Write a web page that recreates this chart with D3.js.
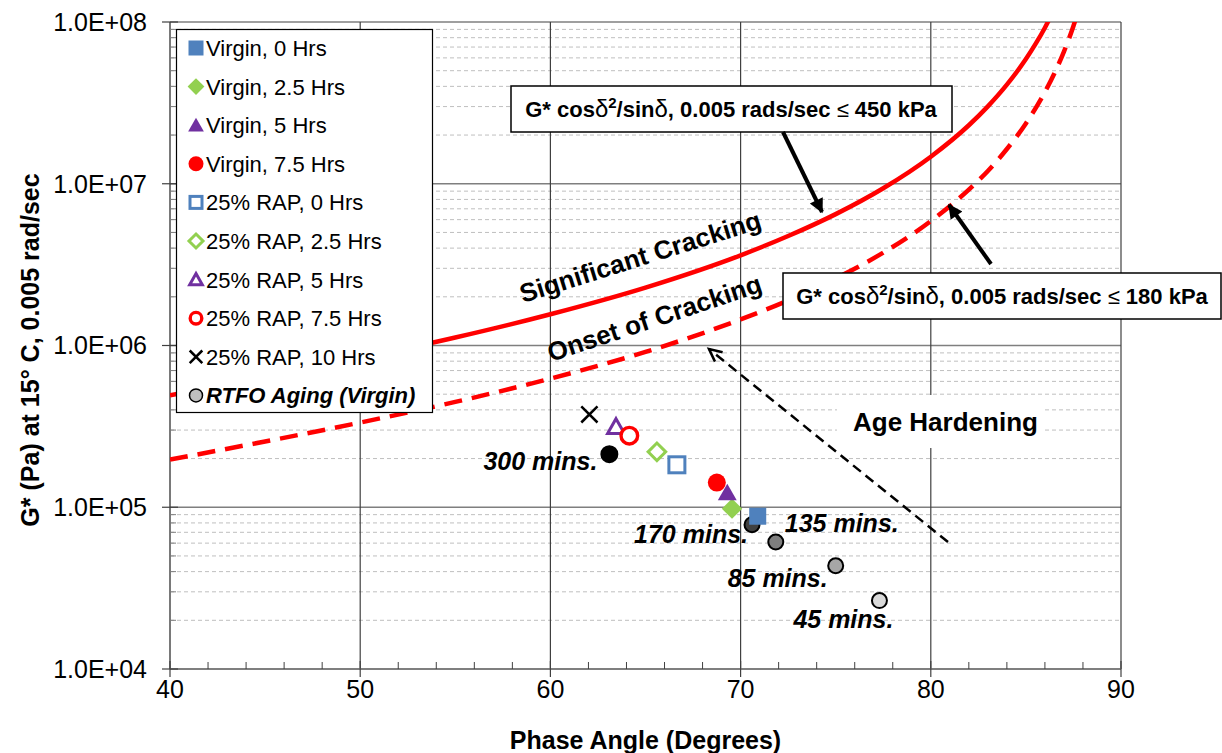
<!DOCTYPE html>
<html>
<head>
<meta charset="utf-8">
<script src="https://cdn.jsdelivr.net/npm/d3@7"></script>
<style>
  body { margin: 0; background: #fff; }
  svg { display: block; }
  text { font-family: "Liberation Sans", Arial, Helvetica, sans-serif; }
</style>
</head>
<body>
<svg id="chart" width="1222" height="753"></svg>
<script>
// ---- Axis ticks -----------------------------------------------------------
const xTicks = [40, 50, 60, 70, 80, 90];
const yTicks = [1e4, 1e5, 1e6, 1e7, 1e8];
const yTickLabels = ["1.0E+04", "1.0E+05", "1.0E+06", "1.0E+07", "1.0E+08"];

// ---- Cracking criteria curves (G* vs phase angle) -------------------------
// G* cos^2(d)/sin(d) = 450 kPa  -> significant cracking
const sigAngles = [40, 45, 50, 55, 60, 65, 70, 72.5, 75, 77.5, 80, 82, 83, 84, 85, 85.5, 86, 86.3];
const sigG = [4.93e5, 6.36e5, 8.34e5, 1.12e6, 1.56e6, 2.28e6, 3.61e6, 4.75e6, 6.49e6, 9.38e6,
              1.47e7, 2.30e7, 3.01e7, 4.10e7, 5.90e7, 7.29e7, 9.22e7, 1.08e8];
// G* cos^2(d)/sin(d) = 180 kPa  -> onset of cracking
const onsetAngles = [40, 45, 50, 55, 60, 65, 70, 72.5, 75, 77.5, 80, 82, 83, 84, 85, 86, 86.5, 87, 87.5, 87.7];
const onsetG = [1.97e5, 2.55e5, 3.34e5, 4.48e5, 6.24e5, 9.13e5, 1.45e6, 1.90e6, 2.60e6, 3.75e6,
                5.88e6, 9.20e6, 1.20e7, 1.64e7, 2.36e7, 3.69e7, 4.82e7, 6.56e7, 9.45e7, 1.12e8];

// ---- Measured binders -----------------------------------------------------
const virginNames = ["Virgin, 0 Hrs", "Virgin, 2.5 Hrs", "Virgin, 5 Hrs", "Virgin, 7.5 Hrs"];
const virginPhase = [70.9, 69.55, 69.3, 68.75];
const virginG = [8.8e4, 9.8e4, 1.23e5, 1.42e5];

const rapNames = ["25% RAP, 0 Hrs", "25% RAP, 2.5 Hrs", "25% RAP, 5 Hrs", "25% RAP, 7.5 Hrs", "25% RAP, 10 Hrs"];
const rapPhase = [66.65, 65.6, 63.45, 64.15, 62.05];
const rapG = [1.83e5, 2.2e5, 3.15e5, 2.77e5, 3.75e5];

const rtfoName = "RTFO Aging (Virgin)";
const rtfoMinutes = [300, 170, 135, 85, 45];
const rtfoPhase = [63.1, 70.6, 71.85, 75.0, 77.3];
const rtfoG = [2.13e5, 7.8e4, 6.1e4, 4.35e4, 2.65e4];

// ---- Layout ---------------------------------------------------------------
const svg = d3.select("#chart");
const plot = { left: 170, right: 1121, top: 22, bottom: 669 };

const x = d3.scaleLinear().domain([40, 90]).range([plot.left, plot.right]);
const y = d3.scaleLog().domain([1e4, 1e8]).range([plot.bottom, plot.top]);

const BLUE = "#4F81BD", GREEN = "#92D050", PURPLE = "#7030A0", RED = "#FF0000";
const rtfoFills = ["#000000", "#404040", "#7F7F7F", "#A6A6A6", "#D9D9D9"];

const defs = svg.append("defs");
defs.append("clipPath").attr("id", "plotClip")
  .append("rect").attr("x", plot.left).attr("y", plot.top)
  .attr("width", plot.right - plot.left).attr("height", plot.bottom - plot.top);

defs.append("marker").attr("id", "solidHead")
  .attr("viewBox", "0 0 10 10").attr("refX", 9).attr("refY", 5)
  .attr("markerWidth", 4.2).attr("markerHeight", 3.6).attr("markerUnits", "strokeWidth")
  .attr("orient", "auto")
  .append("path").attr("d", "M0,0 L10,5 L0,10 Z").attr("fill", "#000");

// ---- Grid -----------------------------------------------------------------
const grid = svg.append("g");
const minorY = [];
for (let d = 1e4; d < 1e8; d *= 10) for (let k = 2; k <= 9; k++) minorY.push(d * k);

grid.selectAll(".minorY").data(minorY).enter().append("line")
  .attr("x1", plot.left).attr("x2", plot.right)
  .attr("y1", d => y(d)).attr("y2", d => y(d))
  .attr("stroke", "#BFBFBF").attr("stroke-width", 1).attr("stroke-dasharray", "4,3");

grid.selectAll(".majorY").data(yTicks.slice(1)).enter().append("line")
  .attr("x1", plot.left).attr("x2", plot.right)
  .attr("y1", d => y(d)).attr("y2", d => y(d))
  .attr("stroke", "#7F7F7F").attr("stroke-width", 1.6);

grid.selectAll(".majorX").data(xTicks.slice(1)).enter().append("line")
  .attr("x1", d => x(d)).attr("x2", d => x(d))
  .attr("y1", plot.top).attr("y2", plot.bottom)
  .attr("stroke", "#404040").attr("stroke-width", 1.2);

// ---- Axes -----------------------------------------------------------------
const axes = svg.append("g");
axes.append("line").attr("x1", plot.left).attr("x2", plot.left)
  .attr("y1", plot.top).attr("y2", plot.bottom).attr("stroke", "#404040").attr("stroke-width", 1.4);
axes.append("line").attr("x1", plot.left).attr("x2", plot.right)
  .attr("y1", plot.bottom).attr("y2", plot.bottom).attr("stroke", "#7F7F7F").attr("stroke-width", 2);

// y ticks
axes.selectAll(".yt").data(yTicks).enter().append("line")
  .attr("x1", plot.left - 8).attr("x2", plot.left + 8)
  .attr("y1", d => y(d)).attr("y2", d => y(d)).attr("stroke", "#404040").attr("stroke-width", 1.2);
axes.selectAll(".ymt").data(minorY).enter().append("line")
  .attr("x1", plot.left).attr("x2", plot.left + 6)
  .attr("y1", d => y(d)).attr("y2", d => y(d)).attr("stroke", "#7F7F7F").attr("stroke-width", 1);
axes.selectAll(".yl").data(yTicks).enter().append("text")
  .attr("x", 147).attr("y", d => y(d)).attr("dy", "0.35em")
  .attr("text-anchor", "end").attr("font-size", 25).attr("fill", "#000")
  .text((d, i) => yTickLabels[i]);

// x ticks
const minorX = d3.range(42, 90, 2).filter(v => v % 10 !== 0);
axes.selectAll(".xt").data(xTicks).enter().append("line")
  .attr("x1", d => x(d)).attr("x2", d => x(d))
  .attr("y1", plot.bottom - 8).attr("y2", plot.bottom + 8).attr("stroke", "#404040").attr("stroke-width", 1.2);
axes.selectAll(".xmt").data(minorX).enter().append("line")
  .attr("x1", d => x(d)).attr("x2", d => x(d))
  .attr("y1", plot.bottom - 7).attr("y2", plot.bottom).attr("stroke", "#404040").attr("stroke-width", 1);
axes.selectAll(".xl").data(xTicks).enter().append("text")
  .attr("x", d => x(d)).attr("y", 698)
  .attr("text-anchor", "middle").attr("font-size", 25).attr("fill", "#000")
  .text(d => d);

// axis titles
svg.append("text").attr("x", (plot.left + plot.right) / 2 + 0).attr("y", 749)
  .attr("text-anchor", "middle").attr("font-size", 25).attr("font-weight", "bold")
  .text("Phase Angle (Degrees)");
svg.append("text").attr("transform", "translate(39,350) rotate(-90)")
  .attr("text-anchor", "middle").attr("font-size", 25).attr("font-weight", "bold")
  .text("G* (Pa) at 15\u00B0 C, 0.005 rad/sec");

// ---- Criteria curves ------------------------------------------------------
const curveLine = d3.line().x(d => x(d[0])).y(d => y(d[1])).curve(d3.curveMonotoneX);
const curves = svg.append("g").attr("clip-path", "url(#plotClip)");
curves.append("path").datum(d3.zip(onsetAngles, onsetG))
  .attr("d", curveLine).attr("fill", "none").attr("stroke", RED)
  .attr("stroke-width", 4.5).attr("stroke-dasharray", "18,10");
curves.append("path").datum(d3.zip(sigAngles, sigG))
  .attr("d", curveLine).attr("fill", "none").attr("stroke", RED).attr("stroke-width", 4.5);

// curve captions
svg.append("text").attr("transform", "translate(523,303) rotate(-17.4)")
  .attr("font-size", 26).attr("font-weight", "bold").text("Significant Cracking");
svg.append("text").attr("transform", "translate(551,362) rotate(-18.4)")
  .attr("font-size", 26).attr("font-weight", "bold").text("Onset of Cracking");

// ---- Age hardening annotation ---------------------------------------------
svg.append("rect").attr("x", 837).attr("y", 395).attr("width", 208).attr("height", 53).attr("fill", "#fff");
svg.append("text").attr("x", 853).attr("y", 431).attr("font-size", 26).attr("font-weight", "bold")
  .text("Age Hardening");
const ahFrom = [948, 542], ahTo = [709, 349];
svg.append("line").attr("x1", ahFrom[0]).attr("y1", ahFrom[1]).attr("x2", ahTo[0]).attr("y2", ahTo[1])
  .attr("stroke", "#000").attr("stroke-width", 2.5).attr("stroke-dasharray", "10,6");
{
  const ang = Math.atan2(ahFrom[1] - ahTo[1], ahFrom[0] - ahTo[0]);
  const len = 14, spread = 0.45;
  const p1 = [ahTo[0] + len * Math.cos(ang - spread), ahTo[1] + len * Math.sin(ang - spread)];
  const p2 = [ahTo[0] + len * Math.cos(ang + spread), ahTo[1] + len * Math.sin(ang + spread)];
  svg.append("path").attr("d", `M${p1[0]},${p1[1]} L${ahTo[0]},${ahTo[1]} L${p2[0]},${p2[1]}`)
    .attr("fill", "none").attr("stroke", "#000").attr("stroke-width", 2.5);
}

// ---- Marker drawing -------------------------------------------------------
function drawMarker(g, type, cx, cy, s) {
  // s: nominal marker size in px
  const h = s / 2;
  switch (type) {
    case "square":
      g.append("rect").attr("x", cx - h).attr("y", cy - h).attr("width", s).attr("height", s).attr("fill", BLUE); break;
    case "diamond":
      g.append("path").attr("d", `M${cx},${cy - h * 1.2} L${cx + h * 1.2},${cy} L${cx},${cy + h * 1.2} L${cx - h * 1.2},${cy} Z`).attr("fill", GREEN); break;
    case "triangle":
      g.append("path").attr("d", `M${cx},${cy - h} L${cx + h * 1.05},${cy + h * 0.85} L${cx - h * 1.05},${cy + h * 0.85} Z`).attr("fill", PURPLE); break;
    case "circle":
      g.append("circle").attr("cx", cx).attr("cy", cy).attr("r", h).attr("fill", RED); break;
    case "squareOpen":
      g.append("rect").attr("x", cx - h + 1.5).attr("y", cy - h + 1.5).attr("width", s - 3).attr("height", s - 3)
        .attr("fill", "#fff").attr("stroke", BLUE).attr("stroke-width", 3); break;
    case "diamondOpen": {
      const r = h * 1.2 - 2;
      g.append("path").attr("d", `M${cx},${cy - r} L${cx + r},${cy} L${cx},${cy + r} L${cx - r},${cy} Z`)
        .attr("fill", "#fff").attr("stroke", GREEN).attr("stroke-width", 3); break;
    }
    case "triangleOpen": {
      const r = h - 1.5;
      g.append("path").attr("d", `M${cx},${cy - r} L${cx + r * 1.05},${cy + r * 0.85} L${cx - r * 1.05},${cy + r * 0.85} Z`)
        .attr("fill", "#fff").attr("stroke", PURPLE).attr("stroke-width", 3).attr("stroke-linejoin", "miter"); break;
    }
    case "circleOpen":
      g.append("circle").attr("cx", cx).attr("cy", cy).attr("r", h - 1.7)
        .attr("fill", "#fff").attr("stroke", RED).attr("stroke-width", 3.4); break;
    case "cross": {
      const r = h * 0.9;
      g.append("path").attr("d", `M${cx - r},${cy - r} L${cx + r},${cy + r} M${cx - r},${cy + r} L${cx + r},${cy - r}`)
        .attr("stroke", "#000").attr("stroke-width", 2.5); break;
    }
  }
}

const virginTypes = ["square", "diamond", "triangle", "circle"];
const rapTypes = ["squareOpen", "diamondOpen", "triangleOpen", "circleOpen", "cross"];
const pointSizes = { square: 17, diamond: 17, triangle: 18, circle: 18,
                     squareOpen: 19, diamondOpen: 18, triangleOpen: 19, circleOpen: 20, cross: 18 };

const pts = svg.append("g");
// RTFO aging points
rtfoPhase.forEach((p, i) => {
  pts.append("circle").attr("cx", x(p)).attr("cy", y(rtfoG[i])).attr("r", i === 0 ? 8 : 7.5)
    .attr("fill", rtfoFills[i]).attr("stroke", "#000").attr("stroke-width", 2);
});
// RAP binder points
rapPhase.forEach((p, i) => drawMarker(pts, rapTypes[i], x(p), y(rapG[i]), pointSizes[rapTypes[i]]));
// Virgin binder points
virginPhase.forEach((p, i) => drawMarker(pts, virginTypes[i], x(p), y(virginG[i]), pointSizes[virginTypes[i]]));

// RTFO aging time labels
const rtfoLabelOffset = [[-12, 16, "end"], [-4, 18, "end"], [9, -10, "start"], [-8, 21, "end"], [14, 27, "end"]];
rtfoMinutes.forEach((m, i) => {
  const [dx, dy, anchor] = rtfoLabelOffset[i];
  svg.append("text").attr("x", x(rtfoPhase[i]) + dx).attr("y", y(rtfoG[i]) + dy)
    .attr("text-anchor", anchor).attr("font-size", 25).attr("font-weight", "bold").attr("font-style", "italic")
    .text(`${m} mins.`);
});

// ---- Criteria callouts ----------------------------------------------------
function formulaBox(bx, by, bw, bh, limit, tx, ty) {
  const g = svg.append("g");
  g.append("rect").attr("x", bx).attr("y", by).attr("width", bw).attr("height", bh)
    .attr("fill", "#fff").attr("stroke", "#000").attr("stroke-width", 1.5);
  const t = g.append("text").attr("x", tx).attr("y", ty).attr("text-anchor", "middle")
    .attr("font-size", 22).attr("font-weight", "bold");
  t.append("tspan").text("G* cos");
  t.append("tspan").attr("font-weight", "normal").attr("font-size", 24).text("\u03B4");
  t.append("tspan").attr("font-size", 15).attr("dy", -9).text("2");
  t.append("tspan").attr("dy", 9).text("/sin");
  t.append("tspan").attr("font-weight", "normal").attr("font-size", 24).text("\u03B4");
  t.append("tspan").text(", 0.005 rads/sec ");
  t.append("tspan").attr("font-weight", "normal").text("\u2264");
  t.append("tspan").text(` ${limit} kPa`);
}
formulaBox(511, 86, 441, 46, 450, 731, 117);
formulaBox(783, 273, 438, 46, 180, 1002, 304);

svg.append("line").attr("x1", 783).attr("y1", 132).attr("x2", 822).attr("y2", 212)
  .attr("stroke", "#000").attr("stroke-width", 4).attr("marker-end", "url(#solidHead)");
svg.append("line").attr("x1", 991).attr("y1", 264).attr("x2", 949).attr("y2", 205)
  .attr("stroke", "#000").attr("stroke-width", 4).attr("marker-end", "url(#solidHead)");

// ---- Legend ---------------------------------------------------------------
const legend = svg.append("g");
legend.append("rect").attr("x", 176.5).attr("y", 29.5).attr("width", 256).attr("height", 383)
  .attr("fill", "#fff").attr("stroke", "#000").attr("stroke-width", 1.2);
const legendItems = [
  ...virginNames.map((n, i) => ({ name: n, type: virginTypes[i] })),
  ...rapNames.map((n, i) => ({ name: n, type: rapTypes[i] })),
  { name: rtfoName, type: "rtfo" }
];
const legendSizes = { square: 15, diamond: 14, triangle: 15, circle: 15,
                      squareOpen: 15, diamondOpen: 15, triangleOpen: 15, circleOpen: 15, cross: 14 };
legendItems.forEach((it, i) => {
  const cy = 48 + i * 38.6;
  if (it.type === "rtfo") {
    legend.append("circle").attr("cx", 196).attr("cy", cy).attr("r", 6.5)
      .attr("fill", "#BFBFBF").attr("stroke", "#000").attr("stroke-width", 1.5);
  } else {
    drawMarker(legend, it.type, 196, cy, legendSizes[it.type]);
  }
  legend.append("text").attr("x", 206).attr("y", cy).attr("dy", "0.36em")
    .attr("font-size", 22)
    .attr("font-weight", it.type === "rtfo" ? "bold" : "normal")
    .attr("font-style", it.type === "rtfo" ? "italic" : "normal")
    .text(it.name);
});
</script>
</body>
</html>
